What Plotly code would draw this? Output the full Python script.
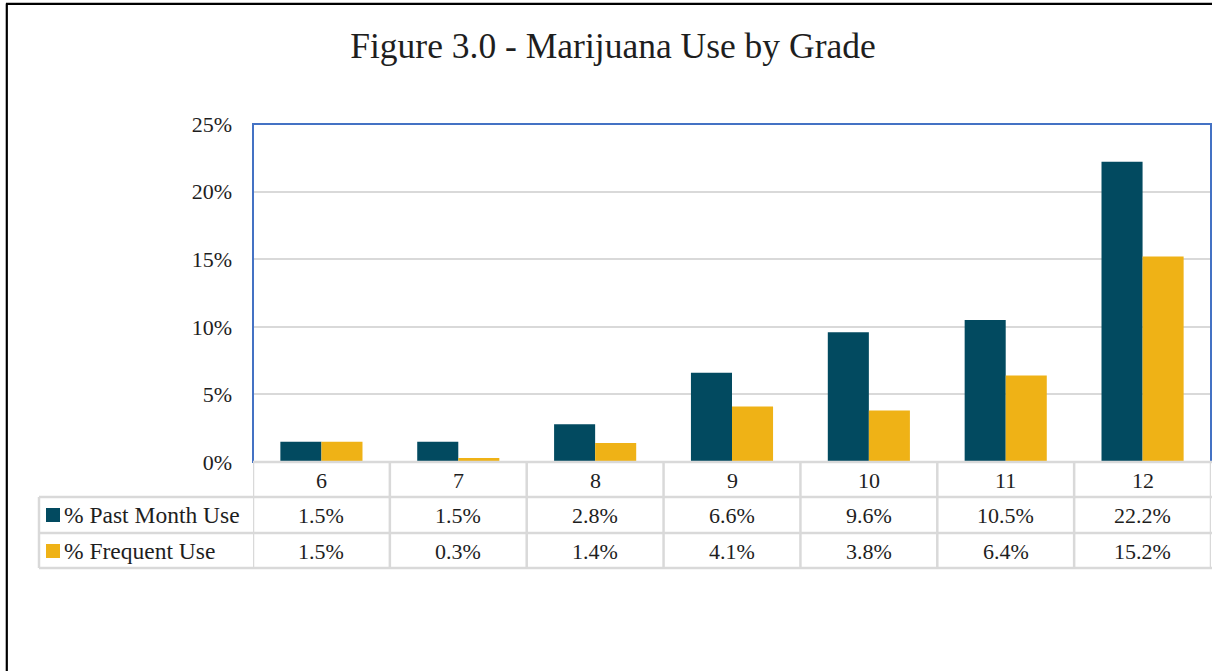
import plotly.graph_objects as go

grades = ["6", "7", "8", "9", "10", "11", "12"]
past_month = [1.5, 1.5, 2.8, 6.6, 9.6, 10.5, 22.2]
frequent = [1.5, 0.3, 1.4, 4.1, 3.8, 6.4, 15.2]
series_names = ["% Past Month Use", "% Frequent Use"]
title_text = "Figure 3.0 - Marijuana Use by Grade"

DARK = "#024A60"
GOLD = "#EFB216"
GRID = "#D9D9D9"
FONT = "Liberation Serif"
TXT = "#1E1E1E"

W, H = 1212, 671
L, R, T, B = 253, 1211, 124, 462


def xp(px):
    return (px - L) / (R - L)


def yp(py):
    return (B - py) / (B - T)


fig = go.Figure()
fig.add_trace(go.Bar(x=grades, y=past_month, name=series_names[0],
                     marker=dict(color=DARK, line=dict(width=0))))
fig.add_trace(go.Bar(x=grades, y=frequent, name=series_names[1],
                     marker=dict(color=GOLD, line=dict(width=0))))

shapes = []
annotations = []

# outer black frame (left and top)
shapes.append(dict(type="line", xref="paper", yref="paper",
                   x0=xp(6.8), x1=xp(6.8), y0=yp(3.5), y1=yp(680),
                   line=dict(color="black", width=2.2)))
shapes.append(dict(type="line", xref="paper", yref="paper",
                   x0=xp(6), x1=xp(1220), y0=yp(3.8), y1=yp(3.8),
                   line=dict(color="black", width=2.2)))

# plot area border (blue)
shapes.append(dict(type="rect", xref="paper", yref="paper",
                   x0=0, x1=1, y0=0, y1=1, layer="above",
                   line=dict(color="#4472C4", width=2)))

# table rows
row_lines = [497, 533, 568]
shapes.append(dict(type="line", xref="paper", yref="paper",
                   x0=0, x1=xp(1212), y0=yp(462), y1=yp(462), layer="above",
                   line=dict(color=GRID, width=2.5)))
for ry in row_lines:
    shapes.append(dict(type="line", xref="paper", yref="paper",
                       x0=xp(39), x1=xp(1212), y0=yp(ry), y1=yp(ry),
                       line=dict(color=GRID, width=2.5)))
# table columns
shapes.append(dict(type="line", xref="paper", yref="paper",
                   x0=xp(39), x1=xp(39), y0=yp(497), y1=yp(568),
                   line=dict(color=GRID, width=2.5)))
for i in range(len(grades) + 1):
    shapes.append(dict(type="line", xref="x", yref="paper",
                       x0=i - 0.5, x1=i - 0.5, y0=yp(462), y1=yp(568),
                       line=dict(color=GRID, width=2.5)))

# category header row
for i, g in enumerate(grades):
    annotations.append(dict(xref="x", yref="paper", x=i, y=yp(480),
                            text=g, showarrow=False, yanchor="middle",
                            font=dict(family=FONT, size=22, color=TXT)))
# value rows
row_centers = [515, 551]
for r, vals in enumerate([past_month, frequent]):
    for i, v in enumerate(vals):
        annotations.append(dict(xref="x", yref="paper", x=i, y=yp(row_centers[r]),
                                text=f"{v:.1f}%", showarrow=False, yanchor="middle",
                                font=dict(family=FONT, size=22, color=TXT)))
    # legend key + label
    col = DARK if r == 0 else GOLD
    cy = row_centers[r]
    shapes.append(dict(type="rect", xref="paper", yref="paper",
                       x0=xp(46), x1=xp(60), y0=yp(cy - 7), y1=yp(cy + 7),
                       fillcolor=col, line=dict(width=0)))
    annotations.append(dict(xref="paper", yref="paper", x=xp(62), y=yp(cy),
                            text=series_names[r], showarrow=False,
                            xanchor="left", yanchor="middle",
                            font=dict(family=FONT, size=23.5, color=TXT)))

fig.update_layout(
    width=W, height=H,
    margin=dict(l=L, r=W - R, t=T, b=H - B, pad=0),
    paper_bgcolor="white", plot_bgcolor="white",
    showlegend=False,
    barmode="group", bargap=0.4, bargroupgap=0,
    title=dict(text=title_text, x=(613) / W, xanchor="center",
               y=1 - 46 / H, yanchor="middle", yref="container",
               font=dict(family=FONT, size=35.5, color=TXT)),
    xaxis=dict(type="category", range=[-0.5, 6.5], showticklabels=False,
               showgrid=False, zeroline=False, showline=False, fixedrange=True),
    yaxis=dict(range=[0, 25], tick0=0, dtick=5, ticksuffix="%",
               showgrid=True, gridcolor=GRID, gridwidth=2,
               zeroline=False, showline=False, ticks="",
               ticklabelstandoff=20,
               tickfont=dict(family=FONT, size=22, color=TXT)),
    shapes=shapes, annotations=annotations,
)

fig.write_html("out.html",
               config={"displayModeBar": False},
               post_script="document.body.style.margin='0px';"
                           "document.body.style.overflow='hidden';")
